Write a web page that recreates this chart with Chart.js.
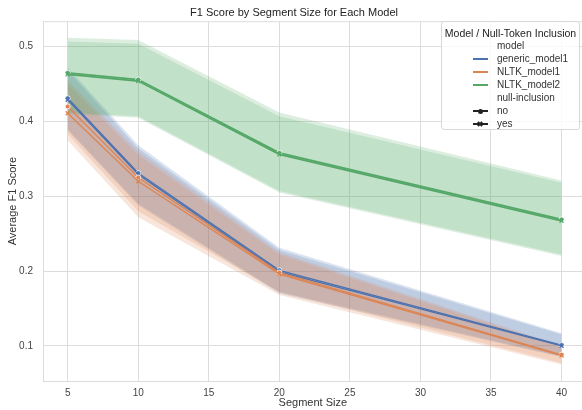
<!DOCTYPE html>
<html>
<head>
<meta charset="utf-8">
<script src="https://cdn.jsdelivr.net/npm/chart.js@4"></script>
<style>
  body { margin:0; background:#fff; font-family:"Liberation Sans", Arial, sans-serif; }
  #wrap { position:relative; width:582px; height:410px; overflow:hidden; }
  #legend { position:absolute; left:441px; top:21px; width:139px; height:109px; border:1px solid #d8d8d8; border-radius:3px;
            background:rgba(255,255,255,.82); font-size:10px; color:#333; box-sizing:border-box; }
  #legend .ttl { position:absolute; left:0; right:0; top:5px; text-align:center; font-size:10.5px; color:#222; white-space:nowrap; }
  #legend .row { position:absolute; left:0; width:130px; height:12px; line-height:12px; }
  #legend .row span { position:absolute; left:55px; white-space:nowrap; }
  #legend .ln { position:absolute; left:31px; top:5px; width:15px; height:2px; }
  #legend .mk { position:absolute; left:35.5px; top:3.5px; width:5px; height:5px; background:#222; border-radius:50%; }
  #legend .xk1, #legend .xk2 { position:absolute; left:35px; top:5px; width:6px; height:2px; background:#222; }
  #legend .xk1 { transform:rotate(45deg); }
  #legend .xk2 { transform:rotate(-45deg); }
</style>
</head>
<body>
<div id="wrap">
  <canvas id="f1Chart" width="588" height="410"></canvas>
  <div id="legend"></div>
</div>
<script>
// segment sizes and tick labels
const segSizes = [5, 10, 20, 40];
const xTicks = [5, 10, 15, 20, 25, 30, 35, 40];
const yTicks = [0.1, 0.2, 0.3, 0.4, 0.5];
const models = ['generic_model1', 'NLTK_model1', 'NLTK_model2'];
const nullInclusion = ['no', 'yes'];
const modelColors = ['76,114,176', '221,132,82', '85,168,104'];

// mean F1 per segment size
const genericNo  = [0.431, 0.331, 0.201, 0.101];
const genericYes = [0.429, 0.329, 0.199, 0.100];
const nltk1No    = [0.420, 0.325, 0.198, 0.088];
const nltk1Yes   = [0.411, 0.320, 0.196, 0.087];
const nltk2No    = [0.465, 0.456, 0.358, 0.269];
const nltk2Yes   = [0.463, 0.454, 0.356, 0.267];

// confidence bands
const genericNoHi  = [0.472, 0.368, 0.231, 0.117];
const genericNoLo  = [0.390, 0.290, 0.172, 0.086];
const genericYesHi = [0.468, 0.364, 0.228, 0.115];
const genericYesLo = [0.388, 0.288, 0.170, 0.085];
const nltk1NoHi    = [0.455, 0.360, 0.225, 0.100];
const nltk1NoLo    = [0.383, 0.280, 0.172, 0.077];
const nltk1YesHi   = [0.450, 0.355, 0.222, 0.098];
const nltk1YesLo   = [0.375, 0.272, 0.168, 0.075];
const nltk2NoHi    = [0.512, 0.509, 0.412, 0.321];
const nltk2NoLo    = [0.410, 0.405, 0.305, 0.220];
const nltk2YesHi   = [0.507, 0.504, 0.407, 0.318];
const nltk2YesLo   = [0.412, 0.407, 0.307, 0.222];

const series = [
  { m:0, inc:0, mean:genericNo,  hi:genericNoHi,  lo:genericNoLo },
  { m:0, inc:1, mean:genericYes, hi:genericYesHi, lo:genericYesLo },
  { m:1, inc:0, mean:nltk1No,    hi:nltk1NoHi,    lo:nltk1NoLo },
  { m:1, inc:1, mean:nltk1Yes,   hi:nltk1YesHi,   lo:nltk1YesLo },
  { m:2, inc:0, mean:nltk2No,    hi:nltk2NoHi,    lo:nltk2NoLo },
  { m:2, inc:1, mean:nltk2Yes,   hi:nltk2YesHi,   lo:nltk2YesLo }
];

const pts = arr => segSizes.map((x, i) => ({ x, y: arr[i] }));

// higher order is drawn first, so later series end up on top (as in seaborn)
const datasets = [];
series.forEach((s, i) => {
  const c = modelColors[s.m];
  datasets.push({ data: pts(s.lo), borderWidth:0, pointRadius:0, fill:false, order:30 - i });
  datasets.push({ data: pts(s.hi), borderWidth:0, pointRadius:0, fill:'-1', backgroundColor:`rgba(${c},.2)`, order:30 - i });
});
series.forEach((s, i) => {
  const c = modelColors[s.m];
  datasets.push({
    label: models[s.m] + ' / ' + nullInclusion[s.inc], data: pts(s.mean),
    borderColor:`rgb(${c})`, borderWidth: s.m === 2 ? 1.8 : 1.3, fill:false, order:10 - i,
    pointStyle: s.inc ? 'crossRot' : 'circle', pointRadius: s.inc ? 2.8 : 2.5,
    pointBackgroundColor:`rgb(${c})`, pointBorderColor: s.inc ? `rgb(${c})` : '#fff', pointBorderWidth: s.inc ? 1.3 : 0.8
  });
});

const font = "'Liberation Sans', Arial, sans-serif";
const gridCol = '#dcdcdc';

// top spine of the axes frame
const topSpine = {
  id: 'topSpine',
  afterDraw(chart) {
    const { ctx, chartArea: a } = chart;
    ctx.save();
    ctx.strokeStyle = gridCol; ctx.lineWidth = 1;
    ctx.beginPath(); ctx.moveTo(a.left, a.top + 0.5); ctx.lineTo(a.right, a.top + 0.5); ctx.stroke();
    ctx.restore();
  }
};

new Chart(document.getElementById('f1Chart'), {
  type: 'line',
  data: { datasets },
  plugins: [topSpine],
  options: {
    responsive:false, animation:false, devicePixelRatio:1,
    layout:{ padding:0 },
    plugins:{
      legend:{ display:false }, tooltip:{ enabled:false },
      title:{ display:true, text:'F1 Score by Segment Size for Each Model', color:'#222',
              font:{ family:font, size:11, weight:'normal' }, padding:{ top:6, bottom:2 } }
    },
    scales:{
      x:{ type:'linear', min:3.25, max:41.5,
          afterBuildTicks: a => { a.ticks = xTicks.map(v => ({ value:v })); },
          afterFit: a => { a.height = 29; },
          grid:{ color:gridCol, drawTicks:false }, border:{ color:gridCol },
          ticks:{ color:'#444', font:{ family:font, size:10 }, padding:6 },
          title:{ display:true, text:'Segment Size', color:'#333', font:{ family:font, size:11 }, padding:{ top:0, bottom:0 } } },
      y:{ type:'linear', min:0.053, max:0.534,
          afterBuildTicks: a => { a.ticks = yTicks.map(v => ({ value:v })); },
          afterFit: a => { a.width = 43; },
          grid:{ color:gridCol, drawTicks:false }, border:{ color:gridCol },
          ticks:{ color:'#444', font:{ family:font, size:10 }, padding:10 },
          title:{ display:true, text:'Average F1 Score', color:'#333', font:{ family:font, size:11 }, padding:{ top:6, bottom:0 } } }
    }
  }
});

// legend (seaborn style)
const lg = document.getElementById('legend');
let html = '<div class="ttl">Model / Null-Token Inclusion</div>';
let y = 18;
html += `<div class="row" style="top:${y}px"><span>model</span></div>`;
models.forEach((m, i) => {
  y += 13;
  html += `<div class="row" style="top:${y}px"><div class="ln" style="background:rgb(${modelColors[i]})"></div><span>${m}</span></div>`;
});
y += 13;
html += `<div class="row" style="top:${y}px"><span>null-inclusion</span></div>`;
nullInclusion.forEach((n, i) => {
  y += 13;
  html += `<div class="row" style="top:${y}px"><div class="ln" style="background:#222"></div>` +
          (i ? '<div class="xk1"></div><div class="xk2"></div>' : '<div class="mk"></div>') + `<span>${n}</span></div>`;
});
lg.innerHTML = html;
</script>
</body>
</html>
